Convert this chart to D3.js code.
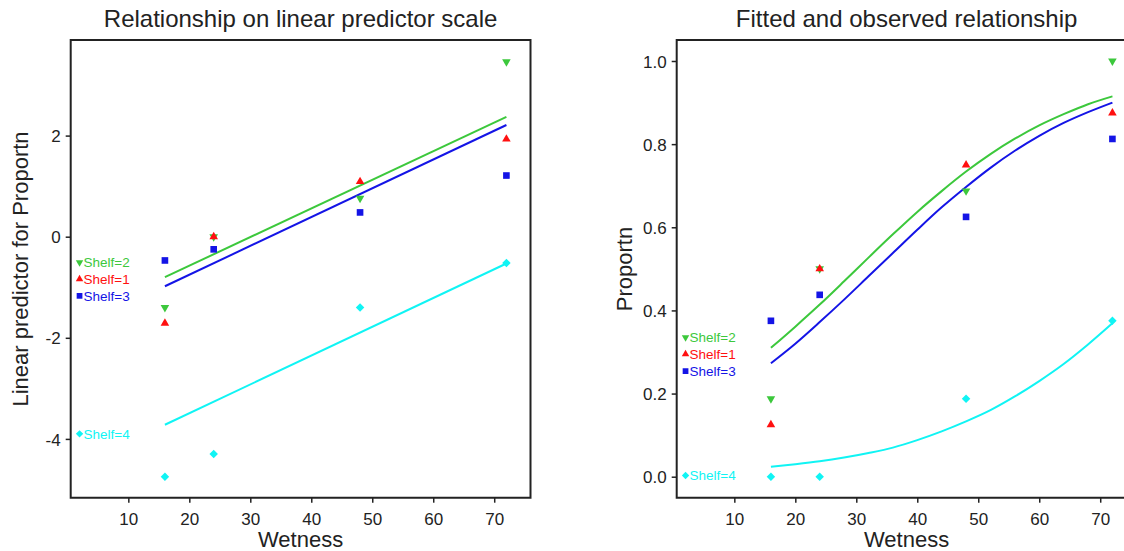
<!DOCTYPE html>
<html>
<head>
<meta charset="utf-8">
<script src="https://cdn.jsdelivr.net/npm/d3@7"></script>
<style>
  body { margin: 0; background: #fff; }
  svg { display: block; font-family: "Liberation Sans", Arial, sans-serif; }
</style>
</head>
<body>
<div class="chart"></div>
<script>
// observed data
const wetness = [16, 24, 48, 72]
const shelfNames = ["Shelf=2", "Shelf=1", "Shelf=3", "Shelf=4"]
const logitShelf2 = [-1.40, 0.00, 0.76, 3.46]
const logitShelf1 = [-1.71, 0.00, 1.09, 1.93]
const logitShelf3 = [-0.47, -0.25, 0.48, 1.21]
const logitShelf4 = [-4.75, -4.30, -1.40, -0.52]
const propShelf2 = [0.1875, 0.5, 0.6875, 1.0]
const propShelf1 = [0.125, 0.5, 0.75, 0.875]
const propShelf3 = [0.375, 0.4375, 0.625, 0.8125]
const propShelf4 = [0, 0, 0.1875, 0.375]

// fitted values
const fitEnds = [16, 72]
const fitLin2 = [-0.80, 2.37]
const fitLin3 = [-0.98, 2.21]
const fitLin4 = [-3.72, -0.53]
const fitGrid = [16, 20, 24, 28, 32, 36, 40, 44, 48, 52, 56, 60, 64, 68, 72]
const fitProp2 = [0.310, 0.361, 0.414, 0.470, 0.527, 0.583, 0.637, 0.687, 0.734, 0.776, 0.813, 0.845, 0.872, 0.896, 0.915]
const fitProp3 = [0.273, 0.320, 0.372, 0.426, 0.482, 0.538, 0.594, 0.648, 0.697, 0.743, 0.784, 0.820, 0.851, 0.877, 0.900]
const fitProp4 = [0.024, 0.030, 0.037, 0.046, 0.057, 0.070, 0.088, 0.109, 0.133, 0.160, 0.193, 0.230, 0.271, 0.318, 0.369]

// legend label spots, in data units
const legendLeftY = [-0.51, -0.84, -1.17, -3.90]
const legendRightY = [0.335, 0.295, 0.254, 0.003]

const xTicks = [10, 20, 30, 40, 50, 60, 70]
const leftYTicks = [-4, -2, 0, 2]
const rightYTicks = [0, 0.2, 0.4, 0.6, 0.8, 1.0]

const colors = { "Shelf=2": "#3cc83c", "Shelf=1": "#ff1010", "Shelf=3": "#1414e6", "Shelf=4": "#10f4f4" }
const symbols = {
    "Shelf=2": { type: d3.symbolTriangle, size: 32, rot: 180 },
    "Shelf=1": { type: d3.symbolTriangle, size: 32, rot: 0 },
    "Shelf=3": { type: d3.symbolSquare, size: 44, rot: 0 },
    "Shelf=4": { type: d3.symbolSquare, size: 36, rot: 45 }
}

const width = 1124
const height = 551

const svg = d3.select(".chart").append("svg")
    .attr("width", width)
    .attr("height", height)

function drawPanel(opt) {
    const x = d3.scaleLinear().domain([0.55, 75.95]).range([opt.left, opt.left + 459.8])
    const y = d3.scaleLinear().domain(opt.yDomain).range([497.7, 40])

    const g = svg.append("g")

    // fitted lines
    opt.fits.forEach(f => {
        const pts = f.xs.map((d, i) => [d, f.ys[i]])
        g.append("path")
            .attr("d", d3.line().x(d => x(d[0])).y(d => y(d[1])).curve(d3.curveMonotoneX)(pts))
            .attr("fill", "none")
            .attr("stroke", colors[f.name])
            .attr("stroke-width", 2)
    })

    // observed points
    opt.points.forEach(p => {
        const s = symbols[p.name]
        g.selectAll(null)
            .data(wetness.map((d, i) => [d, p.ys[i]]))
            .enter()
            .append("path")
            .attr("d", d3.symbol().type(s.type).size(s.size))
            .attr("transform", d => "translate(" + x(d[0]) + "," + y(d[1]) + ") rotate(" + s.rot + ")")
            .attr("fill", colors[p.name])
    })

    // legend labels
    shelfNames.forEach((name, i) => {
        const s = symbols[name]
        const lx = x(2)
        const ly = y(opt.legendY[i])
        g.append("path")
            .attr("d", d3.symbol().type(s.type).size(s.size * 0.75))
            .attr("transform", "translate(" + lx + "," + ly + ") rotate(" + s.rot + ")")
            .attr("fill", colors[name])
        g.append("text")
            .attr("x", lx + 4)
            .attr("y", ly)
            .attr("dy", "0.36em")
            .attr("font-size", 13.5)
            .attr("fill", colors[name])
            .text(name)
    })

    // frame
    g.append("path")
        .attr("d", "M" + x.range()[0] + ",40H" + x.range()[1] + "V497.7H" + x.range()[0] + "Z")
        .attr("fill", "none")
        .attr("stroke", "#222")
        .attr("stroke-width", 2)

    const xAxis = g.append("g")
        .attr("transform", "translate(0,497.7)")
        .call(d3.axisBottom(x).tickValues(xTicks).tickSize(5).tickPadding(10).tickFormat(d => String(d)))
    const yAxis = g.append("g")
        .attr("transform", "translate(" + x.range()[0] + ",0)")
        .call(d3.axisLeft(y).tickValues(opt.yTicks).tickSize(5).tickPadding(5).tickFormat(opt.yFormat))
    ;[xAxis, yAxis].forEach(a => {
        a.select(".domain").remove()
        a.selectAll("line").attr("stroke", "#222").attr("stroke-width", 1.5)
        a.selectAll("text").attr("font-size", 17).attr("fill", "#222").attr("font-family", null)
    })
    yAxis.selectAll("text").attr("dy", "0.36em")

    const cx = (x.range()[0] + x.range()[1]) / 2
    g.append("text")
        .attr("x", cx).attr("y", 27)
        .attr("text-anchor", "middle")
        .attr("font-size", 24).attr("fill", "#222")
        .text(opt.title)
    g.append("text")
        .attr("x", cx).attr("y", 547)
        .attr("text-anchor", "middle")
        .attr("font-size", 22).attr("fill", "#222")
        .text("Wetness")
    g.append("text")
        .attr("transform", "translate(" + opt.yTitleX + "," + 269 + ") rotate(-90)")
        .attr("text-anchor", "middle")
        .attr("font-size", 22).attr("fill", "#222")
        .text(opt.yTitle)
}

drawPanel({
    left: 70.7,
    yDomain: [-5.163, 3.891],
    yTicks: leftYTicks,
    yFormat: d => String(d),
    title: "Relationship on linear predictor scale",
    yTitle: "Linear predictor for Proportn",
    yTitleX: 28.3,
    legendY: legendLeftY,
    fits: [
        { name: "Shelf=3", xs: fitEnds, ys: fitLin3 },
        { name: "Shelf=4", xs: fitEnds, ys: fitLin4 },
        { name: "Shelf=2", xs: fitEnds, ys: fitLin2 }
    ],
    points: [
        { name: "Shelf=2", ys: logitShelf2 },
        { name: "Shelf=1", ys: logitShelf1 },
        { name: "Shelf=3", ys: logitShelf3 },
        { name: "Shelf=4", ys: logitShelf4 }
    ]
})

drawPanel({
    left: 676.7,
    yDomain: [-0.0505, 1.0505],
    yTicks: rightYTicks,
    yFormat: d3.format(".1f"),
    title: "Fitted and observed relationship",
    yTitle: "Proportn",
    yTitleX: 631.5,
    legendY: legendRightY,
    fits: [
        { name: "Shelf=3", xs: fitGrid, ys: fitProp3 },
        { name: "Shelf=4", xs: fitGrid, ys: fitProp4 },
        { name: "Shelf=2", xs: fitGrid, ys: fitProp2 }
    ],
    points: [
        { name: "Shelf=2", ys: propShelf2 },
        { name: "Shelf=1", ys: propShelf1 },
        { name: "Shelf=3", ys: propShelf3 },
        { name: "Shelf=4", ys: propShelf4 }
    ]
})
</script>
</body>
</html>
